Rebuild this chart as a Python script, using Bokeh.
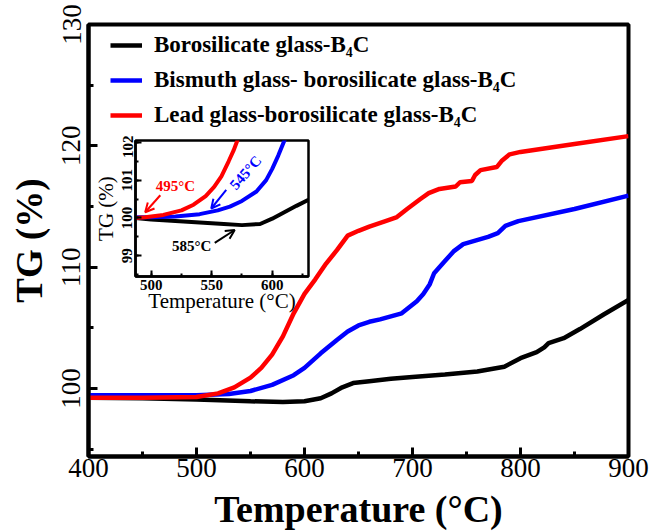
from bokeh.plotting import figure
from bokeh.models import (Range1d, SingleIntervalTicker, Legend, LegendItem,
                          Arrow, OpenHead, Label)
from bokeh.layouts import column
from bokeh.embed import file_html
from bokeh.resources import INLINE

# ---------------- main data ----------------
black_T = [400, 450, 500, 550, 580, 600, 615, 625, 635, 645, 660, 680, 700, 730, 760, 785, 800,
           815, 822, 826, 840, 855, 877, 900]
black_V = [99.25, 99.2, 99.1, 98.95, 98.9, 98.95, 99.2, 99.6, 100.1, 100.45, 100.6, 100.8, 100.95,
           101.15, 101.4, 101.8, 102.5, 103.0, 103.4, 103.75, 104.15, 104.9, 106.1, 107.3]

red_T = [400, 450, 500, 520, 535, 550, 560, 570, 580, 590, 600, 610, 620, 630, 640, 650, 660,
         675, 685, 695, 707, 715, 725, 740, 744, 755, 758, 763, 778, 783, 790, 800, 850, 900]
red_V = [99.25, 99.25, 99.3, 99.6, 100.1, 100.9, 101.7, 102.8, 104.3, 106.2, 107.8, 109.0, 110.3,
         111.4, 112.6, 113.0, 113.35, 113.8, 114.1, 114.8, 115.6, 116.1, 116.45, 116.65, 117.0,
         117.1, 117.6, 118.0, 118.25, 118.8, 119.3, 119.5, 120.15, 120.8]

blue_T = [400, 450, 500, 530, 550, 570, 590, 600, 615, 630, 640, 650, 660, 670, 690, 704, 710,
          716, 720, 729, 738, 747, 770, 779, 786, 798, 850, 900]
blue_V = [99.45, 99.45, 99.45, 99.55, 99.8, 100.3, 101.1, 101.7, 102.9, 104.0, 104.7, 105.2,
          105.5, 105.7, 106.2, 107.2, 107.8, 108.6, 109.5, 110.4, 111.3, 111.9, 112.5, 112.8,
          113.4, 113.8, 114.8, 115.9]

labels = ["Borosilicate glass-B\u2084C",
          "Bismuth glass- borosilicate glass-B\u2084C",
          "Lead glass-borosilicate glass-B\u2084C"]
colors = ["black", "#0000ff", "#ff0000"]

# ---------------- inset data ----------------
ins_black_T = [487, 500, 520, 540, 560, 575, 590, 600, 610, 620, 630]
ins_black_V = [100.0, 99.96, 99.92, 99.88, 99.84, 99.81, 99.84, 99.98, 100.15, 100.32, 100.48]
ins_red_T = [487, 495, 510, 525, 535, 545, 552, 558, 564, 568, 573]
ins_red_V = [100.0, 100.02, 100.08, 100.2, 100.35, 100.58, 100.82, 101.1, 101.5, 101.78, 102.2]
ins_blue_T = [487, 500, 520, 540, 555, 565, 575, 587, 595, 600, 605, 612]
ins_blue_V = [100.02, 100.02, 100.04, 100.1, 100.2, 100.3, 100.45, 100.7, 101.0, 101.3, 101.65, 102.2]

SERIF = "Liberation Serif"

# ---------------- main figure ----------------
p = figure(width=652, height=532, x_range=Range1d(400, 900), y_range=Range1d(94.4, 130),
           output_backend="svg", toolbar_location=None,
           min_border_left=88, min_border_right=24, min_border_top=24, min_border_bottom=76)
p.xgrid.visible = False
p.ygrid.visible = False
p.background_fill_color = "white"
p.border_fill_color = "white"
p.outline_line_color = "black"
p.outline_line_width = 4

p.xaxis.ticker = SingleIntervalTicker(interval=100, num_minor_ticks=2)
p.yaxis.ticker = SingleIntervalTicker(interval=10, num_minor_ticks=2)
for ax in (p.xaxis[0], p.yaxis[0]):
    ax.axis_line_width = 4
    ax.axis_line_color = "black"
    ax.major_tick_in = 9
    ax.major_tick_out = 0
    ax.minor_tick_in = 5
    ax.minor_tick_out = 0
    ax.major_tick_line_width = 3
    ax.minor_tick_line_width = 3
    ax.major_label_text_font = SERIF
    ax.major_label_text_font_size = "27px"
    ax.major_label_text_color = "black"
    ax.axis_label_text_font = SERIF
    ax.axis_label_text_font_style = "bold"
    ax.axis_label_text_color = "black"
p.xaxis.axis_label = "Temperature (\u00b0C)"
p.xaxis.axis_label_text_font_size = "38px"
p.xaxis.major_label_standoff = 2
p.xaxis.axis_label_standoff = 8
p.yaxis.axis_label = "TG (%)"
p.yaxis.axis_label_text_font_size = "37px"
p.yaxis.major_label_orientation = "vertical"
p.yaxis.major_label_standoff = 8
p.yaxis.axis_label_standoff = 10

r_black = p.line(black_T, black_V, line_color=colors[0], line_width=4.5)
r_blue = p.line(blue_T, blue_V, line_color=colors[1], line_width=4.5)
r_red = p.line(red_T, red_V, line_color=colors[2], line_width=4.5)

legend = Legend(items=[LegendItem(label=labels[0], renderers=[r_black]),
                       LegendItem(label=labels[1], renderers=[r_blue]),
                       LegendItem(label=labels[2], renderers=[r_red])],
                location=(22, 326), border_line_color=None, background_fill_alpha=0,
                padding=3, margin=0, spacing=5, glyph_width=32, glyph_height=30,
                label_height=30, label_standoff=12,
                label_text_font=SERIF, label_text_font_style="bold",
                label_text_font_size="23px", label_text_color="black")
p.add_layout(legend)

# ---------------- inset figure ----------------
# the column aligns the inset's left/right borders with the main plot's (88 / 24 px)
INS_LEFT = 88
INS_TOP = 5
INS_BOTTOM = 62
ins = figure(width=INS_LEFT + 173 + 24, height=INS_TOP + 136 + INS_BOTTOM,
             x_range=Range1d(487, 630), y_range=Range1d(98.45, 102.05),
             output_backend="svg", toolbar_location=None,
             min_border_left=INS_LEFT, min_border_right=24, min_border_top=INS_TOP,
             min_border_bottom=INS_BOTTOM)
ins.xgrid.visible = False
ins.ygrid.visible = False
ins.background_fill_color = "white"
ins.border_fill_alpha = 0
ins.outline_line_color = "black"
ins.outline_line_width = 2.5
ins.xaxis.ticker = SingleIntervalTicker(interval=50, num_minor_ticks=2)
ins.yaxis.ticker = SingleIntervalTicker(interval=1, num_minor_ticks=2)
for ax in (ins.xaxis[0], ins.yaxis[0]):
    ax.axis_line_width = 2.5
    ax.major_tick_in = 6
    ax.major_tick_out = 0
    ax.minor_tick_in = 3
    ax.minor_tick_out = 0
    ax.major_tick_line_width = 2
    ax.minor_tick_line_width = 2
    ax.major_label_text_font = SERIF
    ax.major_label_text_font_style = "bold"
    ax.major_label_text_font_size = "15px"
    ax.major_label_text_color = "black"
    ax.axis_label_text_font = SERIF
    ax.axis_label_text_font_style = "normal"
    ax.axis_label_text_font_size = "21px"
    ax.axis_label_text_color = "black"
ins.xaxis.axis_label = "Temperature (\u00b0C)"
ins.xaxis.major_label_standoff = 3
ins.xaxis.axis_label_standoff = -4
ins.yaxis.axis_label = "TG (%)"
ins.yaxis.major_label_orientation = "vertical"
ins.yaxis.major_label_standoff = 3
ins.yaxis.axis_label_standoff = 2

ins.line(ins_black_T, ins_black_V, line_color=colors[0], line_width=4)
ins.line(ins_blue_T, ins_blue_V, line_color=colors[1], line_width=4)
ins.line(ins_red_T, ins_red_V, line_color=colors[2], line_width=4)

# annotations
ins.add_layout(Label(x=520, y=100.85, text="495\u00b0C", text_font=SERIF, text_font_style="bold",
                     text_font_size="15px", text_color=colors[2], text_align="center",
                     text_baseline="middle"))
ins.add_layout(Arrow(x_start=507.5, y_start=100.6, x_end=495, y_end=100.15, line_color=colors[2],
                     line_width=2, end=OpenHead(size=9, line_color=colors[2], line_width=2)))
ins.add_layout(Label(x=578, y=101.2, text="545\u00b0C", text_font=SERIF, text_font_style="bold",
                     text_font_size="15px", text_color=colors[1], text_align="center",
                     text_baseline="middle", angle=0.85))
ins.add_layout(Arrow(x_start=562, y_start=100.74, x_end=549.6, y_end=100.25, line_color=colors[1],
                     line_width=2, end=OpenHead(size=9, line_color=colors[1], line_width=2)))
ins.add_layout(Label(x=533.5, y=99.27, text="585\u00b0C", text_font=SERIF, text_font_style="bold",
                     text_font_size="15px", text_color="black", text_align="center",
                     text_baseline="middle"))
ins.add_layout(Arrow(x_start=552.5, y_start=99.34, x_end=569, y_end=99.68, line_color="black",
                     line_width=2, end=OpenHead(size=9, line_color="black", line_width=2)))

ins.styles = {"position": "absolute", "left": "%dpx" % (135 - INS_LEFT),
              "top": "%dpx" % (140 - INS_TOP), "z-index": "10"}

root = column(p, ins)
root.styles = {"position": "relative"}

open("out.html", "w").write(file_html(root, INLINE))
